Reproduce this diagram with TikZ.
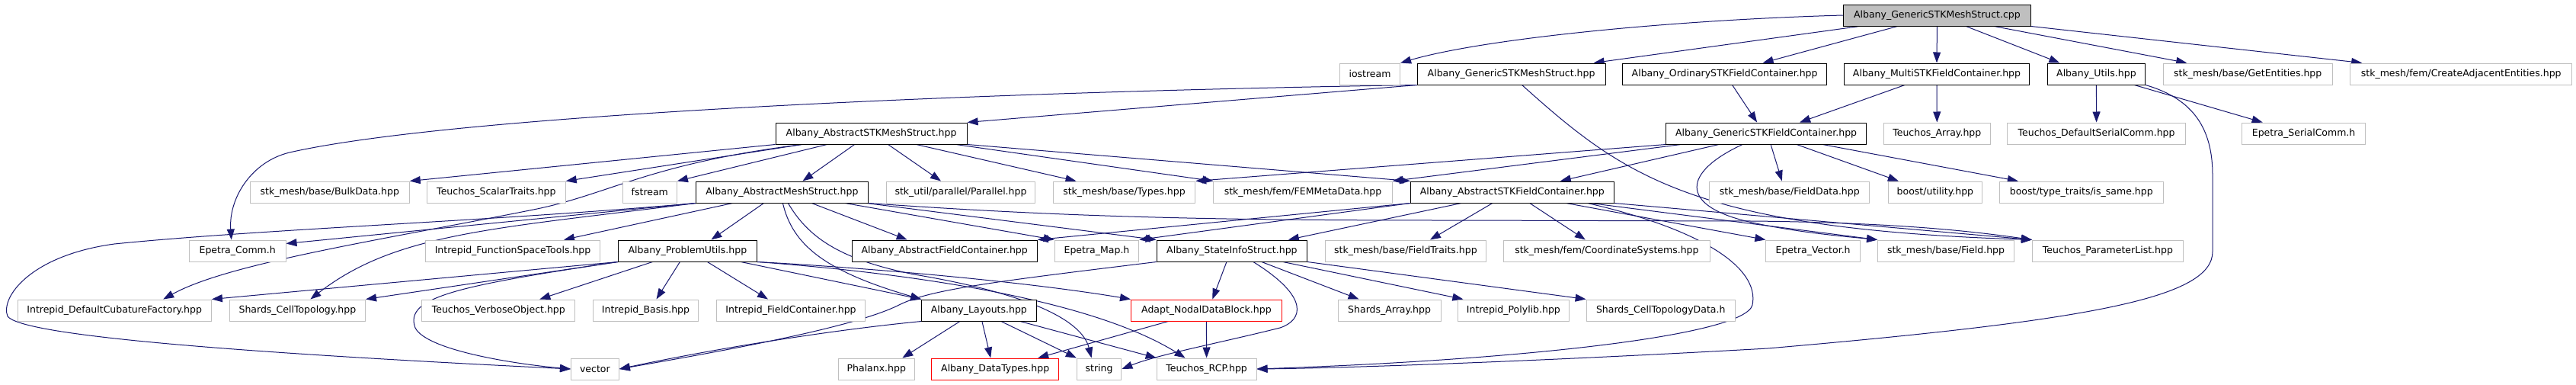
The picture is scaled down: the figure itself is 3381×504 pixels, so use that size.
\documentclass[tikz,border=0pt]{standalone}
\usepackage{fontspec}
\setmainfont{DejaVu Sans}
\usetikzlibrary{arrows.meta,backgrounds}
\definecolor{edge}{HTML}{191970}
\definecolor{lgray}{HTML}{BFBFBF}

\begin{document}
\begin{tikzpicture}[x=1pt,y=-1pt,
  inc/.style={draw=lgray,fill=white,line width=1pt,minimum height=28pt,inner sep=0pt,font=\fontsize{12.5}{15}\selectfont},
  doc/.style={inc,draw=black},
  miss/.style={inc,draw=red},
  dep/.style={draw=edge,line width=1pt,-{Triangle[length=14pt,width=10pt]}}]
\useasboundingbox(0,0)rectangle(3381,504);
% row 0 and 1
\node[doc,fill=lgray,minimum width=245.7pt](root)at(2542.4,20){Albany\_GenericSTKMeshStruct.cpp};
\node[inc,minimum width=79.2pt](ios)at(1798,97){iostream};
\node[doc,minimum width=246.8pt](gsms)at(1983.6,97){Albany\_GenericSTKMeshStruct.hpp};
\node[doc,minimum width=267.4pt](osfc)at(2263.6,97){Albany\_OrdinarySTKFieldContainer.hpp};
\node[doc,minimum width=243.3pt](msfc)at(2542,97){Albany\_MultiSTKFieldContainer.hpp};
\node[doc,minimum width=128.2pt](utils)at(2751.4,97){Albany\_Utils.hpp};
\node[inc,minimum width=221.9pt](getent)at(2950.2,97){stk\_mesh/base/GetEntities.hpp};
\node[inc,minimum width=291.2pt](adj)at(3230.2,97){stk\_mesh/fem/CreateAdjacentEntities.hpp};
% row 2
\node[doc,minimum width=251pt](asms)at(1143.6,175){Albany\_AbstractSTKMeshStruct.hpp};
\node[doc,minimum width=262.4pt](gsfc)at(2318.1,175){Albany\_GenericSTKFieldContainer.hpp};
\node[inc,minimum width=140pt](tarray)at(2542.3,175){Teuchos\_Array.hpp};
\node[inc,minimum width=233.4pt](dsc)at(2751.6,175){Teuchos\_DefaultSerialComm.hpp};
\node[inc,minimum width=162.7pt](sercomm)at(3023.6,175){Epetra\_SerialComm.h};
% row 3
\node[inc,minimum width=208.9pt](bulk)at(432.8,252){stk\_mesh/base/BulkData.hpp};
\node[inc,minimum width=181.6pt](scalar)at(651.4,252){Teuchos\_ScalarTraits.hpp};
\node[inc,minimum width=71.2pt](fstream)at(852.8,252){fstream};
\node[doc,minimum width=226.1pt](ams)at(1026.4,252){Albany\_AbstractMeshStruct.hpp};
\node[inc,minimum width=194.4pt](par)at(1261,252){stk\_util/parallel/Parallel.hpp};
\node[inc,minimum width=186.4pt](types)at(1475.5,252){stk\_mesh/base/Types.hpp};
\node[inc,minimum width=234.4pt](fem)at(1710,252){stk\_mesh/fem/FEMMetaData.hpp};
\node[doc,minimum width=266.7pt](asfc)at(1984.8,252){Albany\_AbstractSTKFieldContainer.hpp};
\node[inc,minimum width=210.3pt](fdata)at(2348.8,252){stk\_mesh/base/FieldData.hpp};
\node[inc,minimum width=122.9pt](butil)at(2539.9,252){boost/utility.hpp};
\node[inc,minimum width=215.1pt](same)at(2731.8,252){boost/type\_traits/is\_same.hpp};
% row 4
\node[inc,minimum width=126.7pt](comm)at(311.7,329){Epetra\_Comm.h};
\node[inc,minimum width=229.5pt](fst)at(673,329){Intrepid\_FunctionSpaceTools.hpp};
\node[doc,minimum width=181.8pt](pu)at(902.4,329){Albany\_ProblemUtils.hpp};
\node[doc,minimum width=243.3pt](afc)at(1239.7,329){Albany\_AbstractFieldContainer.hpp};
\node[inc,minimum width=110.6pt](map)at(1439.5,329){Epetra\_Map.h};
\node[doc,minimum width=197.4pt](state)at(1616.9,329){Albany\_StateInfoStruct.hpp};
\node[inc,minimum width=211.8pt](ftraits)at(1844.9,329){stk\_mesh/base/FieldTraits.hpp};
\node[inc,minimum width=270.9pt](coord)at(2108.9,329){stk\_mesh/fem/CoordinateSystems.hpp};
\node[inc,minimum width=123.5pt](evec)at(2379.6,329){Epetra\_Vector.h};
\node[inc,minimum width=178.7pt](field)at(2554,329){stk\_mesh/base/Field.hpp};
\node[inc,minimum width=197.9pt](plist)at(2766.4,329){Teuchos\_ParameterList.hpp};
% row 5
\node[inc,minimum width=254.4pt](dcf)at(150.2,407){Intrepid\_DefaultCubatureFactory.hpp};
\node[inc,minimum width=178.3pt](topo)at(390.4,407){Shards\_CellTopology.hpp};
\node[inc,minimum width=201.2pt](verb)at(654.3,407){Teuchos\_VerboseObject.hpp};
\node[inc,minimum width=138.5pt](basis)at(847.5,407){Intrepid\_Basis.hpp};
\node[inc,minimum width=194.4pt](fcont)at(1038,407){Intrepid\_FieldContainer.hpp};
\node[doc,minimum width=150.4pt](lay)at(1284.9,407){Albany\_Layouts.hpp};
\node[miss,minimum width=197.8pt](adapt)at(1583.4,407){Adapt\_NodalDataBlock.hpp};
\node[inc,minimum width=135.1pt](sarray)at(1823.6,407){Shards\_Array.hpp};
\node[inc,minimum width=145.4pt](poly)at(1986.4,407){Intrepid\_Polylib.hpp};
\node[inc,minimum width=195.2pt](ctdata)at(2179.7,407){Shards\_CellTopologyData.h};
% row 6
\node[inc,minimum width=62.8pt](vec)at(780.9,484){vector};
\node[inc,minimum width=99.8pt](phx)at(1150.3,484){Phalanx.hpp};
\node[miss,minimum width=166.8pt](dtypes)at(1306.2,484){Albany\_DataTypes.hpp};
\node[inc,minimum width=58.6pt](str)at(1442.6,484){string};
\node[inc,minimum width=130.8pt](rcp)at(1583.6,484){Teuchos\_RCP.hpp};

\begin{scope}[on background layer]
\fill[white](0,0)rectangle(3381,504);
% includes of the cpp file
\draw[dep](root.west)..controls(2200,26)and(1950,50)..(ios.north east);
\draw[dep]([xshift=-102pt]root.south)--([xshift=108pt]gsms.north);
\draw[dep]([xshift=-52pt]root.south)--([xshift=50pt]osfc.north);
\draw[dep](root.south)--(msfc.north);
\draw[dep]([xshift=38pt]root.south)--([xshift=-48pt]utils.north);
\draw[dep]([xshift=75pt]root.south)--([xshift=-80pt]getent.north);
\draw[dep](root.south east)--([xshift=-130pt]adj.north);
% row 1
\draw[dep](gsms.south west)--(asms.north east);
\draw[dep](gsms.south west)..controls(1300,120)and(600,150)..(380,200)..controls(330,212)and(300,260)..([xshift=-8pt]comm.north);
\draw[dep]([xshift=14pt]gsms.south)..controls(2130,230)and(2220,300)..(plist.north west);
\draw[dep]([xshift=10pt]osfc.south)--([xshift=-12pt]gsfc.north);
\draw[dep]([xshift=-42pt]msfc.south)--([xshift=44pt]gsfc.north);
\draw[dep](msfc.south)--(tarray.north);
\draw[dep](utils.south)--(dsc.north);
\draw[dep]([xshift=50pt]utils.south)--([xshift=-54pt]sercomm.north);
\draw[dep](utils.south east)..controls(2880,130)and(2904,170)..(2904,230)--(2904,330)..controls(2904,390)and(2750,420)..(2320,457)..controls(2000,475)and(1750,483)..(rcp.east);
% row 2
\draw[dep](asms.south west)--(bulk.north east);
\draw[dep]([xshift=-91pt]asms.south)--(scalar.north east);
\draw[dep]([xshift=-58pt]asms.south)--(fstream.north east);
\draw[dep]([xshift=-22pt]asms.south)--([xshift=27pt]ams.north);
\draw[dep]([xshift=22pt]asms.south)--([xshift=-26pt]par.north);
\draw[dep]([xshift=59pt]asms.south)--([xshift=-63pt]types.north);
\draw[dep]([xshift=111pt]asms.south)--(fem.north west);
\draw[dep](asms.south east)--(asfc.north west);
\draw[dep]([xshift=-91pt]asms.south)..controls(850,215)and(800,255)..(700,275)..controls(500,315)and(300,345)..([xshift=64pt]dcf.north);
\draw[dep](gsfc.south west)--(types.north east);
\draw[dep]([xshift=20pt]gsfc.south west)--(fem.north east);
\draw[dep]([xshift=-62pt]gsfc.south)--([xshift=63pt]asfc.north);
\draw[dep]([xshift=6pt]gsfc.south)--([xshift=-10pt]fdata.north);
\draw[dep]([xshift=40pt]gsfc.south)--([xshift=-48pt]butil.north);
\draw[dep]([xshift=74pt]gsfc.south)--([xshift=-83pt]same.north);
\draw[dep]([xshift=-31pt]gsfc.south)..controls(2210,225)and(2200,270)..(2300,292)..controls(2360,305)and(2420,310)..(field.north west);
% row 3
\draw[dep](ams.south west)--([yshift=-5pt]comm.north east);
\draw[dep](ams.south west)..controls(650,290)and(350,300)..(150,320)..controls(40,335)and(0,390)..(10,415)..controls(30,440)and(300,462)..(vec.west);
\draw[dep](ams.south west)..controls(650,300)and(520,305)..([xshift=17pt]topo.north);
\draw[dep]([xshift=-65pt]ams.south)--([xshift=67pt]fst.north);
\draw[dep]([xshift=-24pt]ams.south)--([xshift=31pt]pu.north);
\draw[dep]([xshift=1pt]ams.south)..controls(1040,320)and(1080,355)..(lay.north west);
\draw[dep]([xshift=8pt]ams.south)..controls(1060,310)and(1100,340)..(1200,360)..controls(1350,385)and(1420,420)..([xshift=-10pt]str.north);
\draw[dep]([xshift=39pt]ams.south)--([xshift=-49pt]afc.north);
\draw[dep]([xshift=83pt]ams.south)--(map.north west);
\draw[dep]([xshift=111pt]ams.south)--(state.north west);
\draw[dep](ams.south east)..controls(1400,285)and(1600,289)..(1900,289)--(2300,290)..controls(2500,292)and(2600,305)..(plist.north west);
\draw[dep](asfc.south west)--(afc.north east);
\draw[dep](asfc.south west)--(map.north east);
\draw[dep]([xshift=-67pt]asfc.south)--([xshift=74pt]state.north);
\draw[dep]([xshift=-26pt]asfc.south)--([xshift=32pt]ftraits.north);
\draw[dep]([xshift=23pt]asfc.south)--([xshift=-28pt]coord.north);
\draw[dep]([xshift=71pt]asfc.south)--(evec.north west);
\draw[dep]([xshift=103pt]asfc.south)--(field.north west);
\draw[dep](asfc.south east)--(plist.north west);
\draw[dep]([xshift=99pt]asfc.south)..controls(2230,300)and(2310,350)..(2300,400)..controls(2290,440)and(2000,472)..(rcp.east);
% row 4
\draw[dep](pu.south west)--(dcf.north east);
\draw[dep](pu.south west)--(topo.north east);
\draw[dep](pu.south west)..controls(600,375)and(530,390)..(545,430)..controls(560,460)and(680,478)..(vec.west);
\draw[dep]([xshift=-46pt]pu.south)--([xshift=54pt]verb.north);
\draw[dep]([xshift=-10pt]pu.south)--([xshift=14pt]basis.north);
\draw[dep]([xshift=26pt]pu.south)--([xshift=-30pt]fcont.north);
\draw[dep]([xshift=70pt]pu.south)--(lay.north west);
\draw[dep](pu.south east)..controls(1150,352)and(1350,370)..(adapt.north west);
\draw[dep](pu.south east)..controls(1150,355)and(1420,385)..([xshift=-28pt]rcp.north);
\draw[dep]([xshift=-7pt]state.south)--([xshift=8pt]adapt.north);
\draw[dep](state.south west)..controls(1300,370)and(1220,380)..(1180,400)..controls(1120,430)and(950,460)..(vec.east);
\draw[dep]([xshift=28pt]state.south)..controls(1720,390)and(1710,420)..(1680,430)..controls(1600,450)and(1520,465)..(str.east);
\draw[dep]([xshift=39pt]state.south)--([xshift=-40pt]sarray.north);
\draw[dep]([xshift=67pt]state.south)--([xshift=-66pt]poly.north);
\draw[dep](state.south east)--(ctdata.north west);
% row 5
\draw[dep]([xshift=-25pt]lay.south)--([xshift=34pt]phx.north);
\draw[dep]([xshift=4pt]lay.south)--([xshift=-6pt]dtypes.north);
\draw[dep]([xshift=29pt]lay.south)--(str.north west);
\draw[dep]([xshift=54pt]lay.south)--(rcp.north west);
\draw[dep](lay.south west)..controls(1100,432)and(950,455)..(vec.east);
\draw[dep]([xshift=-50pt]adapt.south)--([xshift=56pt]dtypes.north);
\draw[dep](adapt.south)--(rcp.north);
\end{scope}
\end{tikzpicture}
\end{document}
